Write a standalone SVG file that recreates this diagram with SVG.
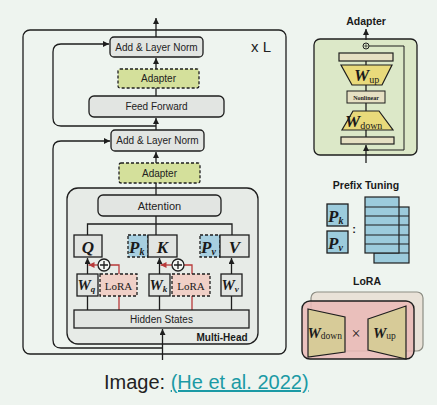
<svg xmlns="http://www.w3.org/2000/svg" width="437" height="405" viewBox="0 0 437 405">
<defs>
<marker id="ah" viewBox="0 0 10 10" refX="10" refY="5" markerWidth="6" markerHeight="6" orient="auto" markerUnits="userSpaceOnUse"><path d="M0,0 L10,5 L0,10 Z" fill="#1e1e1e"/></marker>
<marker id="ahr" viewBox="0 0 10 10" refX="10" refY="5" markerWidth="6" markerHeight="6" orient="auto" markerUnits="userSpaceOnUse"><path d="M0,0 L10,5 L0,10 Z" fill="#b83a3a"/></marker>
</defs>
<style>
.ln{fill:none;stroke:#1e1e1e;stroke-width:1.3}
.rd{fill:none;stroke:#b83a3a;stroke-width:1.3}
.g{fill:#e2e5e2;stroke:#1e1e1e;stroke-width:1.3}
.ad{fill:#d4e09b;stroke:#1e1e1e;stroke-width:1.3;stroke-dasharray:3 2}
.pb{fill:#a7cfe0;stroke:#1e1e1e;stroke-width:1.3;stroke-dasharray:3 2}
.lo{fill:#f0d0c7;stroke:#1e1e1e;stroke-width:1.3;stroke-dasharray:3 2}
.t{font-family:"Liberation Sans",Arial,sans-serif;font-size:10px;fill:#222;text-anchor:middle}
.tb{font-family:"Liberation Sans",Arial,sans-serif;font-weight:bold;fill:#1a1a1a;text-anchor:middle}
.m{font-family:"Liberation Serif","Times New Roman",serif;font-weight:bold;font-style:italic;fill:#1a1a1a}
.s{font-family:"Liberation Serif","Times New Roman",serif;fill:#1a1a1a}
.sub{font-family:"Liberation Serif","Times New Roman",serif;font-weight:normal;font-style:normal;fill:#1a1a1a}
</style>
<rect width="437" height="405" fill="#eef4ef"/>

<g id="outer">
<rect x="23" y="30" width="263" height="324" rx="7" class="ln"/>
<text x="261" y="52" class="t" style="font-size:15px">x L</text>
</g>
<g id="multihead">
<rect x="67" y="188" width="191" height="156" rx="11" fill="#e7ebe7" stroke="#1e1e1e" stroke-width="1.3"/>
<text x="222" y="341" class="tb" style="font-size:10px">Multi-Head</text>
</g>

<g id="connectors">
<path class="ln" d="M156,37 V18" marker-end="url(#ah)"/>
<path class="ln" d="M156,69 V58" marker-end="url(#ah)"/>
<path class="ln" d="M156,96 V88"/>
<path class="ln" d="M156,130 V118" marker-end="url(#ah)"/>
<path class="ln" d="M156,126 H61 Q53,126 53,118 V52 Q53,44 61,44 H109" marker-end="url(#ah)"/>
<path class="ln" d="M156,163 V152" marker-end="url(#ah)"/>
<path class="ln" d="M156,195 V183"/>
<path class="ln" d="M162.5,348 H61 Q53,348 53,340 V149 Q53,141 61,141 H110" marker-end="url(#ah)"/>
<path class="ln" d="M162.5,360 V329" marker-end="url(#ah)"/>
<path class="ln" d="M156,216 V235 M87.5,235 V224 H232 V235"/>
<path class="ln" d="M87.5,310 V296 M87.5,274 V258" marker-end="url(#ah)"/>
<path class="ln" d="M159.5,310 V296 M159.5,274 V258" marker-end="url(#ah)"/>
<path class="ln" d="M231.5,310 V296 M231.5,274 V258" marker-end="url(#ah)"/>
<path class="rd" d="M119,310 V296 M119,274 V265 H110"/>
<path class="rd" d="M192,310 V296 M192,274 V265 H184"/>
<path class="rd" d="M98,265 H88.5" marker-end="url(#ahr)"/>
<path class="rd" d="M172,265 H160.5" marker-end="url(#ahr)"/>
<circle cx="104" cy="265" r="6" fill="#f4f6f4" stroke="#1e1e1e" stroke-width="1.3"/>
<path class="ln" d="M100,265 H108 M104,261 V269"/>
<circle cx="178" cy="265" r="6" fill="#f4f6f4" stroke="#1e1e1e" stroke-width="1.3"/>
<path class="ln" d="M174,265 H182 M178,261 V269"/>
</g>

<g id="addnorm1"><rect x="110" y="37" width="93" height="20" rx="4" class="g"/><text x="156.5" y="50.5" class="t">Add &amp; Layer Norm</text></g>
<g id="adapter1"><rect x="118" y="69" width="81" height="19" rx="2" class="ad"/><text x="158.5" y="82" class="t">Adapter</text></g>
<g id="feedforward"><rect x="89" y="96" width="135" height="21" rx="5" class="g"/><text x="156.5" y="110" class="t">Feed Forward</text></g>
<g id="addnorm2"><rect x="111" y="130" width="93" height="21" rx="4" class="g"/><text x="157.5" y="144" class="t">Add &amp; Layer Norm</text></g>
<g id="adapter2"><rect x="119" y="163" width="81" height="20" rx="2" class="ad"/><text x="159.5" y="177" class="t">Adapter</text></g>
<g id="attention"><rect x="98" y="195" width="123" height="21" rx="5" class="g"/><text x="159.5" y="209.5" class="t" style="font-size:11px">Attention</text></g>

<g id="q"><rect x="74" y="235" width="28" height="22" class="g"/><text x="88" y="252.5" class="m" style="font-size:17px" text-anchor="middle">Q</text></g>
<g id="pk"><rect x="128" y="235" width="20" height="22" class="pb"/><text x="129" y="252.5" class="m" style="font-size:17px">P<tspan style="font-size:10px" dy="2">k</tspan></text></g>
<g id="k"><rect x="148" y="235" width="29" height="22" class="g"/><text x="162.5" y="252.5" class="m" style="font-size:17px" text-anchor="middle">K</text></g>
<g id="pv"><rect x="200" y="235" width="20" height="22" class="pb"/><text x="201" y="252.5" class="m" style="font-size:17px">P<tspan style="font-size:10px" dy="2">v</tspan></text></g>
<g id="v"><rect x="220" y="235" width="29" height="22" class="g"/><text x="234.5" y="252.5" class="m" style="font-size:17px" text-anchor="middle">V</text></g>

<g id="wq"><rect x="77" y="274" width="21" height="22" class="g"/><text x="77.5" y="290" class="m" style="font-size:15px">W<tspan style="font-size:9px" dy="2">q</tspan></text></g>
<g id="lora1"><rect x="100" y="274" width="37" height="22" class="lo"/><text x="118.5" y="289.5" class="s" style="font-size:11px" text-anchor="middle">LoRA</text></g>
<g id="wk"><rect x="149" y="274" width="21" height="22" class="g"/><text x="149.5" y="290" class="m" style="font-size:15px">W<tspan style="font-size:9px" dy="2">k</tspan></text></g>
<g id="lora2"><rect x="172" y="274" width="38" height="22" class="lo"/><text x="191" y="289.5" class="s" style="font-size:11px" text-anchor="middle">LoRA</text></g>
<g id="wv"><rect x="221" y="274" width="21" height="22" class="g"/><text x="221.5" y="290" class="m" style="font-size:15px">W<tspan style="font-size:9px" dy="2">v</tspan></text></g>

<g id="hidden"><rect x="74" y="310" width="175" height="18" class="g"/><text x="161.5" y="323" class="t">Hidden States</text></g>

<g id="adapter-panel">
<text x="366" y="25" class="tb" style="font-size:10.5px">Adapter</text>
<rect x="314" y="39" width="103" height="116" rx="6" fill="#dce8c8" stroke="#1e1e1e" stroke-width="1.3"/>
<path class="ln" d="M366,40 V29" marker-end="url(#ah)"/>
<path d="M366,163 V145" class="ln" marker-end="url(#ah)"/>
<path class="ln" d="M366,137 V53"/>
<path d="M369,46 H404 V150 H366" fill="none" stroke="#1e1e1e" stroke-width="1"/>
<circle cx="366" cy="46" r="3" fill="#dce8c8" stroke="#1e1e1e" stroke-width="1"/>
<path d="M364.3,46 H367.7 M366,44.3 V47.7" stroke="#1e1e1e" stroke-width="0.7"/>
<rect x="339" y="53" width="54" height="8" fill="#e6e0c3" stroke="#1e1e1e" stroke-width="1.2"/>
<path d="M341,65 H392 L382,85 H352 Z" fill="#e9da7b" stroke="#1e1e1e" stroke-width="1.2"/>
<text x="354" y="81" class="m" style="font-size:17px">W<tspan class="sub" style="font-size:10px" dy="2">up</tspan></text>
<rect x="347" y="91" width="38" height="12" fill="#e6e0c3" stroke="#1e1e1e" stroke-width="1"/>
<text x="366" y="99.5" class="s" style="font-size:6px;font-weight:bold" text-anchor="middle">Nonlinear</text>
<path d="M353,111 H379 L393,130 H342 Z" fill="#e9da7b" stroke="#1e1e1e" stroke-width="1.2"/>
<text x="345" y="127" class="m" style="font-size:17px">W<tspan class="sub" style="font-size:10px" dy="2">down</tspan></text>
<rect x="341" y="137" width="53" height="7" fill="#e6e0c3" stroke="#1e1e1e" stroke-width="1.2"/>
</g>

<g id="prefix-panel">
<text x="366" y="189" class="tb" style="font-size:10.5px">Prefix Tuning</text>
<rect x="327" y="204" width="21" height="22" fill="#9ccbdc" stroke="#1e1e1e" stroke-width="1.3"/>
<text x="328" y="221.5" class="m" style="font-size:17px">P<tspan style="font-size:10px" dy="2">k</tspan></text>
<rect x="327" y="231" width="21" height="22" fill="#9ccbdc" stroke="#1e1e1e" stroke-width="1.3"/>
<text x="328" y="248.5" class="m" style="font-size:17px">P<tspan style="font-size:10px" dy="2">v</tspan></text>
<text x="354" y="233" class="tb" style="font-size:11px">:</text>
<rect x="374" y="207" width="35" height="56" fill="#9ccbdc" stroke="#1e1e1e" stroke-width="1.2"/>
<path d="M374,216 H409 M374,225 H409 M374,235 H409 M374,244 H409 M374,253 H409" stroke="#1e1e1e" stroke-width="1.1"/>
<rect x="365" y="197" width="34" height="56" fill="#9ccbdc" stroke="#1e1e1e" stroke-width="1.2"/>
<path d="M365,207 H399 M365,216 H399 M365,225 H399 M365,235 H399 M365,244 H399" stroke="#1e1e1e" stroke-width="1.1"/>
</g>

<g id="lora-panel">
<text x="367" y="285" class="tb" style="font-size:10.5px">LoRA</text>
<rect x="311" y="292" width="112" height="59" rx="6" fill="#e9e2d8" stroke="#8d8d84" stroke-width="1.2"/>
<rect x="302" y="301" width="112" height="58" rx="8" fill="#eab9b6" fill-opacity="0.85" stroke="#1e1e1e" stroke-width="1.4"/>
<path d="M308,309 L345,317 V352 L308,357 Z" fill="#d7cb98" stroke="#1e1e1e" stroke-width="1.2"/>
<text x="307.5" y="338" class="m" style="font-size:15px">W<tspan class="sub" style="font-size:9.5px" dy="1">down</tspan></text>
<text x="356" y="339" class="s" style="font-size:16px" text-anchor="middle">×</text>
<path d="M368,319 L406,306 V359 L368,350 Z" fill="#d7cb98" stroke="#1e1e1e" stroke-width="1.2"/>
<text x="373" y="338" class="m" style="font-size:15px">W<tspan class="sub" style="font-size:9.5px" dy="1">up</tspan></text>
</g>

<g id="caption">
<text x="104" y="389" style="font-family:'Liberation Sans',Arial,sans-serif;font-size:20px;fill:#222">Image: <tspan fill="#1b9aa5" text-decoration="underline">(He et al. 2022)</tspan></text>
</g>
</svg>
